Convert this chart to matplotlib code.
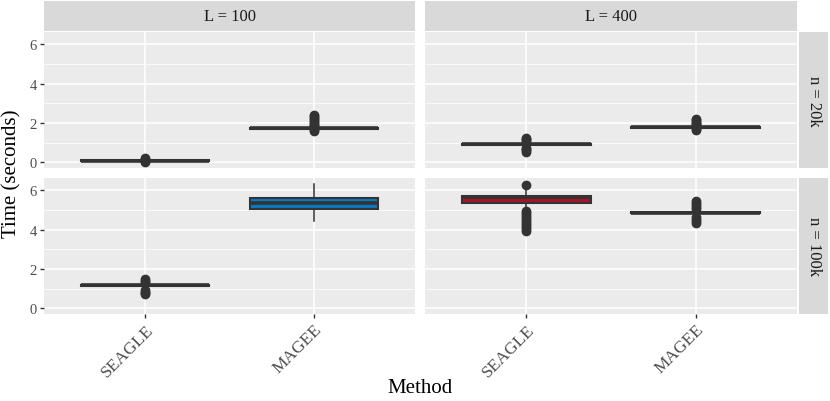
import matplotlib
matplotlib.use("Agg")
import matplotlib.pyplot as plt

plt.rcParams['font.family'] = ['Liberation Serif', 'DejaVu Serif']

# facets and categories
methods = ["SEAGLE", "MAGEE"]
col_labels = ["L = 100", "L = 400"]
row_labels = ["n = 20k", "n = 100k"]

# box statistics, indexed [row][col][method]
q1 = [[[0.08, 1.72], [0.90, 1.76]],
      [[1.15, 5.08], [5.36, 4.83]]]
med = [[[0.10, 1.74], [0.93, 1.78]],
       [[1.18, 5.34], [5.64, 4.86]]]
q3 = [[[0.12, 1.77], [0.96, 1.80]],
      [[1.21, 5.59], [5.73, 4.89]]]
whislo = [[[0.05, 1.68], [0.85, 1.72]],
          [[1.10, 4.45], [5.00, 4.78]]]
whishi = [[[0.15, 1.82], [1.00, 1.84]],
          [[1.26, 6.30], [6.05, 4.95]]]
fliers = [[[[0.03, 0.08, 0.14, 0.20, 0.24],
             [1.62, 1.66, 1.86, 1.92, 1.98, 2.05, 2.12, 2.2, 2.28, 2.36, 2.42]],
            [[0.55, 0.62, 0.68, 0.74, 1.05, 1.12, 1.18, 1.24],
             [1.66, 1.70, 1.90, 1.96, 2.02, 2.08, 2.14, 2.2]]],
          [[[0.75, 0.80, 0.86, 0.92, 1.35, 1.42, 1.48],
            []],
           [[3.95, 4.05, 4.15, 4.25, 4.35, 4.45, 4.55, 4.65, 4.75, 4.85, 4.95, 6.25],
            [4.35, 4.45, 4.55, 4.65, 5.08, 5.18, 5.28, 5.38, 5.48]]]]
fills = [[["#333333", "#333333"], ["#333333", "#333333"]],
         [["#333333", "#0b78c0"], ["#a3162a", "#333333"]]]

W, H = 830, 402
fig = plt.figure(figsize=(W / 100, H / 100), dpi=100)


def rect(x0, y0, x1, y1):
    return [x0 / W, 1 - y1 / H, (x1 - x0) / W, (y1 - y0) / H]


col_x = [(44, 415), (425, 797)]
row_y = [(33, 169), (179, 315)]
ylim = (-0.28, 6.63)
dark = "#333333"

for r in range(2):
    for c in range(2):
        ax = fig.add_axes(rect(col_x[c][0], row_y[r][0], col_x[c][1], row_y[r][1]))
        ax.set_facecolor("#EBEBEB")
        for s in ax.spines.values():
            s.set_visible(False)
        stats = []
        for m in range(2):
            stats.append(dict(med=med[r][c][m], q1=q1[r][c][m], q3=q3[r][c][m],
                              whislo=whislo[r][c][m], whishi=whishi[r][c][m],
                              fliers=fliers[r][c][m]))
        bp = ax.bxp(stats, positions=[1, 2], widths=0.76, patch_artist=True,
                    showcaps=False, manage_ticks=False,
                    boxprops=dict(edgecolor=dark, linewidth=1.5),
                    medianprops=dict(color=dark, linewidth=2.6),
                    whiskerprops=dict(color=dark, linewidth=1.1),
                    flierprops=dict(marker='o', markersize=6, markerfacecolor=dark,
                                    markeredgecolor=dark))
        for m, patch in enumerate(bp['boxes']):
            patch.set_facecolor(fills[r][c][m])
        ax.set_ylim(*ylim)
        ax.set_xlim(0.4, 2.6)
        ax.set_yticks([0, 2, 4, 6])
        ax.set_yticks([1, 3, 5], minor=True)
        ax.set_xticks([1, 2])
        ax.grid(True, which='major', color='white', linewidth=1.1)
        ax.grid(True, which='minor', axis='y', color='white', linewidth=0.55)
        ax.set_axisbelow(True)
        ax.tick_params(axis='both', which='major', color=dark, length=3, width=1,
                       labelcolor="#4D4D4D", labelsize=10.5, pad=2)
        ax.tick_params(axis='y', which='minor', length=0)
        if c == 0:
            ax.set_yticklabels(["0", "2", "4", "6"])
        else:
            ax.tick_params(axis='y', which='major', length=0, labelleft=False)
        if r == 1:
            ax.set_xticklabels(methods, rotation=45, ha='right',
                               rotation_mode='anchor', fontsize=12.5)
        else:
            ax.tick_params(axis='x', length=0, labelbottom=False)

# top strips
for c in range(2):
    sx = fig.add_axes(rect(col_x[c][0], 2, col_x[c][1], 32))
    sx.set_facecolor("#D9D9D9")
    sx.set_xticks([]); sx.set_yticks([])
    for s in sx.spines.values():
        s.set_visible(False)
    sx.text(0.5, 0.5, col_labels[c], ha='center', va='center', fontsize=12,
            color="#1A1A1A", transform=sx.transAxes)

# right strips
for r in range(2):
    sy = fig.add_axes(rect(799, row_y[r][0], 828, row_y[r][1]))
    sy.set_facecolor("#D9D9D9")
    sy.set_xticks([]); sy.set_yticks([])
    for s in sy.spines.values():
        s.set_visible(False)
    sy.text(0.5, 0.5, row_labels[r], ha='center', va='center', fontsize=12,
            color="#1A1A1A", rotation=-90, transform=sy.transAxes)

fig.text(12 / W, 1 - 174 / H, "Time (seconds)", rotation=90, ha='center',
         va='center', fontsize=15, color='black')
fig.text(420 / W, 1 - 389 / H, "Method", ha='center', va='center',
         fontsize=15, color='black')

fig.savefig("out.png", dpi=100)
